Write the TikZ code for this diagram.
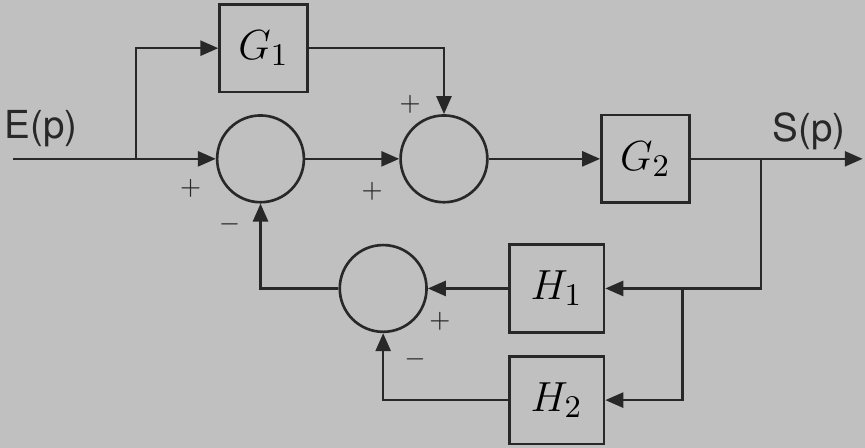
\documentclass[tikz,border=0pt]{standalone}
\usepackage{fontspec}
\newfontfamily\labelfont{TeX Gyre Heros}
\usetikzlibrary{arrows.meta}
\definecolor{scangray}{RGB}{192,192,192}
\definecolor{inkgray}{RGB}{40,40,40}

\begin{document}
\begin{tikzpicture}[x=0.01cm,y=-0.01cm,
    every path/.style={draw=inkgray,line width=0.75pt},
    >={Triangle[length=0.18cm,width=0.15cm]},
    block/.style={draw=inkgray,minimum width=0.88cm,minimum height=0.88cm,
                  inner sep=0pt,font=\fontsize{13}{15}\selectfont},
    sumnode/.style={draw=inkgray,circle,minimum size=0.87cm,inner sep=0pt},
    sgn/.style={font=\scriptsize,text=inkgray,inner sep=0pt},
    io/.style={font=\labelfont\fontsize{11}{13}\selectfont,text=inkgray}]
    % background
    \useasboundingbox (0,0) rectangle (865,446);
    \fill[scangray,draw=none] (-5,-5) rectangle (870,451);
    % blocks
    \node[block] (g1) at (263,47) {$G_1$};
    \node[block] (g2) at (646,158) {$G_2$};
    \node[block,minimum width=0.95cm] (h1) at (557,288) {$H_1$};
    \node[block,minimum width=0.95cm] (h2) at (557,400) {$H_2$};
    % summing points
    \node[sumnode] (s1) at (260,158) {};
    \node[sumnode] (s2) at (444,158) {};
    \node[sumnode] (s3) at (383,288) {};
    % input / output
    \coordinate (in) at (12,158);
    \coordinate (br1) at (135,158);
    \coordinate (br2) at (762,158);
    \coordinate (br3) at (683,288);
    \coordinate (out) at (864,158);
    \node[io] (ein) at (40,128) {E(p)};
    \node[io] (sout) at (810,130) {S(p)};
    % forward path
    \draw[->] (in) -- (s1);
    \draw[->] (br1) |- (g1);
    \draw[->] (g1) -| (s2);
    \draw[->] (s1) -- (s2);
    \draw[->] (s2) -- (g2);
    \draw[->] (g2) -- (out);
    % feedback
    \draw[->] (br2) |- (h1);
    \draw[->] (br3) |- (h2);
    \draw[->] (h1) -- (s3);
    \draw[->] (s3) -| (s1);
    \draw[->] (h2) -| (s3);
    % signs
    \node[sgn] (p1) at (190,188) {$+$};
    \node[sgn] (m1) at (229,224) {$-$};
    \node[sgn] (p2) at (372,191) {$+$};
    \node[sgn] (p3) at (410,103) {$+$};
    \node[sgn] (p4) at (440,321) {$+$};
    \node[sgn] (m2) at (415,359) {$-$};
\end{tikzpicture}
\end{document}
